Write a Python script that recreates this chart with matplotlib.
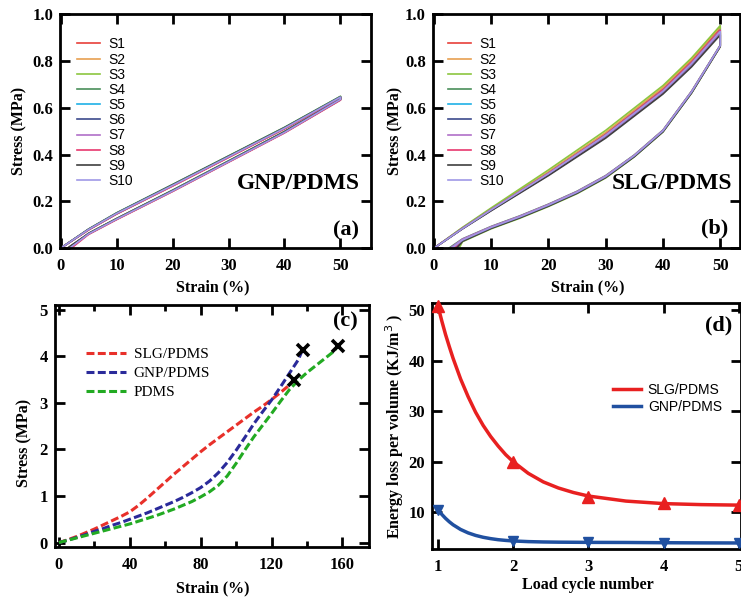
"""
Cyclic and tensile stress-strain of GNP/PDMS and SLG/PDMS composites
(a) GNP/PDMS cycles, (b) SLG/PDMS cycles, (c) tensile to failure, (d) energy loss
"""

import numpy as np
import matplotlib
matplotlib.use('Agg')
import matplotlib.pyplot as plt

SERIF = 'Liberation Serif'
SANS = 'Liberation Sans'

# ---- data: panel (a) GNP/PDMS, 10 load/unload cycles ----
sample_names = ['S1', 'S2', 'S3', 'S4', 'S5', 'S6', 'S7', 'S8', 'S9', 'S10']
sample_colors = ['#e8403a', '#e8a050', '#8cc63f', '#4a8f5a', '#1fb0e6',
                 '#3c4a8c', '#b070c8', '#e8386e', '#404040', '#a098e6']

gnp_load_strain = [0, 5, 10, 20, 30, 40, 50]
gnp_load_stress = [
    [0, 0.080, 0.148, 0.268, 0.390, 0.512, 0.645],
    [0, 0.079, 0.146, 0.266, 0.388, 0.510, 0.643],
    [0, 0.081, 0.150, 0.271, 0.393, 0.515, 0.648],
    [0, 0.082, 0.151, 0.272, 0.394, 0.516, 0.648],
    [0, 0.080, 0.149, 0.269, 0.391, 0.513, 0.646],
    [0, 0.079, 0.147, 0.267, 0.389, 0.511, 0.644],
    [0, 0.080, 0.148, 0.268, 0.390, 0.512, 0.645],
    [0, 0.078, 0.146, 0.265, 0.387, 0.509, 0.642],
    [0, 0.081, 0.149, 0.270, 0.392, 0.514, 0.646],
    [0, 0.080, 0.148, 0.268, 0.390, 0.512, 0.645],
]
gnp_unload_strain = [50, 40, 30, 20, 10, 5]
gnp_unload_end = [1.5, 1.2, 1.8, 1.4, 1.6, 1.3, 1.5, 1.9, 1.2, 1.6]
gnp_unload_stress = [
    [0.635, 0.495, 0.370, 0.245, 0.125, 0.062, 0],
    [0.633, 0.493, 0.368, 0.243, 0.123, 0.060, 0],
    [0.638, 0.498, 0.373, 0.248, 0.127, 0.064, 0],
    [0.638, 0.498, 0.372, 0.247, 0.126, 0.063, 0],
    [0.636, 0.496, 0.371, 0.246, 0.125, 0.062, 0],
    [0.634, 0.494, 0.369, 0.244, 0.124, 0.061, 0],
    [0.635, 0.495, 0.370, 0.245, 0.125, 0.062, 0],
    [0.632, 0.492, 0.367, 0.242, 0.122, 0.059, 0],
    [0.636, 0.497, 0.371, 0.246, 0.126, 0.063, 0],
    [0.635, 0.494, 0.369, 0.244, 0.124, 0.061, 0],
]

# ---- data: panel (b) SLG/PDMS, 10 load/unload cycles ----
slg_load_strain = [0, 5, 10, 20, 30, 40, 45, 50]
slg_load_stress = [
    [0, 0.086, 0.166, 0.322, 0.488, 0.680, 0.800, 0.940],
    [0, 0.087, 0.168, 0.326, 0.494, 0.686, 0.806, 0.945],
    [0, 0.089, 0.172, 0.334, 0.503, 0.694, 0.812, 0.950],
    [0, 0.084, 0.162, 0.314, 0.476, 0.664, 0.782, 0.920],
    [0, 0.085, 0.165, 0.320, 0.485, 0.675, 0.792, 0.930],
    [0, 0.084, 0.163, 0.316, 0.478, 0.666, 0.784, 0.920],
    [0, 0.083, 0.161, 0.312, 0.474, 0.662, 0.778, 0.915],
    [0, 0.085, 0.165, 0.320, 0.485, 0.675, 0.792, 0.930],
    [0, 0.083, 0.160, 0.310, 0.470, 0.658, 0.774, 0.910],
    [0, 0.084, 0.164, 0.318, 0.482, 0.670, 0.788, 0.925],
]
slg_unload_strain = [50, 45, 40, 35, 30, 25, 20, 15, 10, 5]
slg_unload_end = [3.0, 3.6, 4.4, 2.6, 3.3, 3.8, 2.8, 3.4, 4.0, 3.1]
slg_unload_stress = [
    [0.865, 0.668, 0.502, 0.396, 0.307, 0.240, 0.185, 0.135, 0.090, 0.036, 0],
    [0.862, 0.665, 0.499, 0.393, 0.304, 0.237, 0.182, 0.132, 0.087, 0.032, 0],
    [0.860, 0.662, 0.496, 0.390, 0.300, 0.233, 0.178, 0.128, 0.083, 0.028, 0],
    [0.866, 0.670, 0.504, 0.398, 0.310, 0.243, 0.188, 0.138, 0.093, 0.040, 0],
    [0.864, 0.667, 0.501, 0.395, 0.306, 0.239, 0.184, 0.134, 0.089, 0.035, 0],
    [0.862, 0.664, 0.498, 0.392, 0.303, 0.236, 0.181, 0.131, 0.086, 0.031, 0],
    [0.865, 0.669, 0.503, 0.397, 0.309, 0.242, 0.187, 0.137, 0.092, 0.039, 0],
    [0.863, 0.666, 0.500, 0.394, 0.305, 0.238, 0.183, 0.133, 0.088, 0.034, 0],
    [0.861, 0.663, 0.497, 0.391, 0.302, 0.235, 0.180, 0.130, 0.085, 0.030, 0],
    [0.864, 0.667, 0.501, 0.395, 0.306, 0.239, 0.184, 0.134, 0.089, 0.035, 0],
]

# ---- data: panel (c) tensile to failure ----
slg_strain = [0, 5, 10, 15, 20, 25, 30, 35, 40, 45, 50, 55, 60, 65, 70, 75, 80,
              85, 90, 95, 100, 105, 110, 115, 120, 125, 130, 132.5]
slg_stress = [0, 0.06, 0.13, 0.21, 0.29, 0.38, 0.47, 0.56, 0.66, 0.80, 0.96, 1.13, 1.30,
              1.47, 1.63, 1.79, 1.95, 2.10, 2.24, 2.38, 2.52, 2.66, 2.80, 2.93, 3.07,
              3.22, 3.38, 3.49]
gnp_strain = [0, 5, 10, 15, 20, 25, 30, 35, 40, 45, 50, 55, 60, 65, 70, 75, 80,
              85, 90, 95, 100, 105, 110, 115, 120, 125, 130, 135, 137.5]
gnp_stress = [0, 0.05, 0.11, 0.17, 0.24, 0.30, 0.37, 0.43, 0.50, 0.57, 0.64, 0.72, 0.80,
              0.88, 0.97, 1.07, 1.18, 1.32, 1.50, 1.72, 1.98, 2.26, 2.55, 2.81, 3.06,
              3.34, 3.63, 3.92, 4.14]
pdms_strain = [0, 5, 10, 15, 20, 25, 30, 35, 40, 45, 50, 55, 60, 65, 70, 75, 80,
               85, 90, 95, 100, 105, 110, 115, 120, 125, 130, 135, 140, 145, 150, 155, 157.5]
pdms_stress = [0, 0.05, 0.10, 0.15, 0.20, 0.25, 0.30, 0.35, 0.40, 0.46, 0.52, 0.58, 0.65,
               0.72, 0.80, 0.88, 0.98, 1.09, 1.23, 1.43, 1.70, 1.99, 2.27, 2.52, 2.77,
               3.03, 3.28, 3.48, 3.65, 3.80, 3.95, 4.10, 4.22]

# ---- data: panel (d) energy loss per cycle ----
cycles = [1, 2, 3, 4, 5]
slg_loss = [50.8, 20.0, 13.0, 11.8, 11.5]
gnp_loss = [10.5, 4.3, 4.0, 3.9, 3.9]
fit_cycle = [1, 1.05, 1.1, 1.15, 1.2, 1.3, 1.4, 1.5, 1.6, 1.7, 1.8, 1.9, 2.0,
             2.2, 2.4, 2.6, 2.8, 3.0, 3.5, 4, 4.5, 5]
slg_fit = [50.8, 47.9, 45.2, 42.8, 40.5, 36.4, 32.9, 29.8, 27.2, 25.0, 23.1, 21.4, 20.0,
           17.7, 16.0, 14.8, 13.9, 13.2, 12.2, 11.7, 11.5, 11.4]
gnp_fit = [10.5, 9.57, 8.78, 8.1, 7.51, 6.58, 5.9, 5.4, 5.03, 4.76, 4.55, 4.41, 4.3,
           4.17, 4.1, 4.06, 4.04, 4.02, 4.0, 3.95, 3.92, 3.9]


def style_axes(ax):
    for sp in ax.spines.values():
        sp.set_linewidth(2.0)
    ax.tick_params(which='major', direction='in', top=True, right=True,
                   length=7, width=2, labelsize=12)
    ax.tick_params(which='minor', direction='in', top=True, right=True,
                   length=4, width=2)
    ax.tick_params(axis='x', which='major', pad=7)
    ax.tick_params(axis='y', which='major', pad=5)
    for lab in ax.get_xticklabels() + ax.get_yticklabels():
        lab.set_fontfamily(SERIF)
        lab.set_fontweight('bold')


def set_labels(ax, xlabel, ylabel, xpos, ypos):
    ax.set_xlabel(xlabel, fontfamily=SERIF, fontweight='bold', fontsize=11.5, va='center')
    ax.set_ylabel(ylabel, fontfamily=SERIF, fontweight='bold', fontsize=11.5, va='center')
    ax.xaxis.set_label_coords(*xpos)
    ax.yaxis.set_label_coords(*ypos)


fig = plt.figure(figsize=(7.41, 6.04), dpi=100)
ax1 = fig.add_axes([0.081, 0.589, 0.420, 0.388])
ax2 = fig.add_axes([0.584, 0.589, 0.415, 0.388])
ax3 = fig.add_axes([0.074, 0.094, 0.424, 0.401])
ax4 = fig.add_axes([0.583, 0.091, 0.417, 0.407])

leg_sans = dict(loc='upper left', frameon=False, prop={'family': SANS, 'size': 10},
                handlelength=1.65, handletextpad=0.6, labelspacing=0.085,
                borderpad=0, borderaxespad=0)

# (a)
for i, name in enumerate(sample_names):
    x = gnp_load_strain + gnp_unload_strain + [gnp_unload_end[i]]
    y = gnp_load_stress[i] + gnp_unload_stress[i]
    ax1.plot(x, y, color=sample_colors[i], lw=1.2, label=name)
ax1.set_xlim(-0.1, 55.5)
ax1.set_ylim(0, 1.0)
ax1.set_xticks([0, 10, 20, 30, 40, 50])
ax1.set_yticks(np.arange(0, 1.01, 0.2))
ax1.yaxis.set_major_formatter(plt.FuncFormatter(lambda v, p: f'{v:.1f}'))
style_axes(ax1)
set_labels(ax1, 'Strain (%)', 'Stress (MPa)', (0.49, -0.167), (-0.129, 0.5))
ax1.legend(bbox_to_anchor=(0.055, 0.90), **leg_sans)
ax1.text(0.965, 0.278, 'GNP/PDMS', transform=ax1.transAxes, ha='right', va='center',
         fontfamily=SERIF, fontweight='bold', fontsize=17)
ax1.text(0.961, 0.077, '(a)', transform=ax1.transAxes, ha='right', va='center',
         fontfamily=SERIF, fontweight='bold', fontsize=16)

# (b)
for i, name in enumerate(sample_names):
    x = slg_load_strain + slg_unload_strain + [slg_unload_end[i]]
    y = slg_load_stress[i] + slg_unload_stress[i]
    ax2.plot(x, y, color=sample_colors[i], lw=1.2, label=name)
ax2.set_xlim(-0.2, 53.5)
ax2.set_ylim(0, 1.0)
ax2.set_xticks([0, 10, 20, 30, 40, 50])
ax2.set_yticks(np.arange(0, 1.01, 0.2))
ax2.yaxis.set_major_formatter(plt.FuncFormatter(lambda v, p: f'{v:.1f}'))
style_axes(ax2)
set_labels(ax2, 'Strain (%)', 'Stress (MPa)', (0.505, -0.167), (-0.12, 0.5))
ax2.legend(bbox_to_anchor=(0.049, 0.90), **leg_sans)
ax2.text(0.974, 0.278, 'SLG/PDMS', transform=ax2.transAxes, ha='right', va='center',
         fontfamily=SERIF, fontweight='bold', fontsize=17)
ax2.text(0.961, 0.085, '(b)', transform=ax2.transAxes, ha='right', va='center',
         fontfamily=SERIF, fontweight='bold', fontsize=16)

# (c)
dash = (2.6, 1.1)
ax3.plot(slg_strain, slg_stress, color='#e8302a', lw=2.2, dashes=dash, label='SLG/PDMS')
ax3.plot(gnp_strain, gnp_stress, color='#2a2a9a', lw=2.2, dashes=dash, label='GNP/PDMS')
ax3.plot(pdms_strain, pdms_stress, color='#22aa22', lw=2.2, dashes=dash, label='PDMS')
ax3.plot([slg_strain[-1], gnp_strain[-1], pdms_strain[-1]],
         [slg_stress[-1], gnp_stress[-1], pdms_stress[-1]],
         'x', color='black', ms=8, mew=2.6, zorder=5)
ax3.set_xlim(-2.3, 175)
ax3.set_ylim(-0.1, 5.1)
ax3.set_xticks([0, 40, 80, 120, 160])
ax3.set_xticks([20, 60, 100, 140], minor=True)
ax3.set_yticks([0, 1, 2, 3, 4, 5])
style_axes(ax3)
set_labels(ax3, 'Strain (%)', 'Stress (MPa)', (0.503, -0.17), (-0.096, 0.43))
ax3.legend(loc='upper left', bbox_to_anchor=(0.10, 0.825), frameon=False,
           prop={'family': SERIF, 'size': 11}, handlelength=2.6, handletextpad=0.5,
           labelspacing=0.35, borderpad=0, borderaxespad=0)
ax3.text(0.965, 0.93, '(c)', transform=ax3.transAxes, ha='right', va='center',
         fontfamily=SERIF, fontweight='bold', fontsize=16)

# (d)
ax4.plot(fit_cycle, slg_fit, color='#e82020', lw=2.5, label='SLG/PDMS')
ax4.plot(fit_cycle, gnp_fit, color='#2050a0', lw=2.5, label='GNP/PDMS')
ax4.plot(cycles, slg_loss, '^', color='#e82020', ms=8.5, clip_on=False, zorder=5)
ax4.plot(cycles, gnp_loss, 'v', color='#2050a0', ms=7.5, clip_on=False, zorder=5)
ax4.set_xlim(0.92, 5.03)
ax4.set_ylim(2.7, 51.4)
ax4.set_xticks(cycles)
ax4.set_yticks([10, 20, 30, 40, 50])
style_axes(ax4)
set_labels(ax4, 'Load cycle number', 'Energy loss per volume (KJ/m$^{3}$ )',
           (0.505, -0.146), (-0.12, 0.5))
ax4.legend(loc='upper left', bbox_to_anchor=(0.586, 0.675), frameon=False,
           prop={'family': SANS, 'size': 10}, handlelength=2.0, handletextpad=0.5,
           labelspacing=0.2, borderpad=0, borderaxespad=0)
ax4.text(0.971, 0.91, '(d)', transform=ax4.transAxes, ha='right', va='center',
         fontfamily=SERIF, fontweight='bold', fontsize=16)

plt.savefig('out.png', dpi=100)
